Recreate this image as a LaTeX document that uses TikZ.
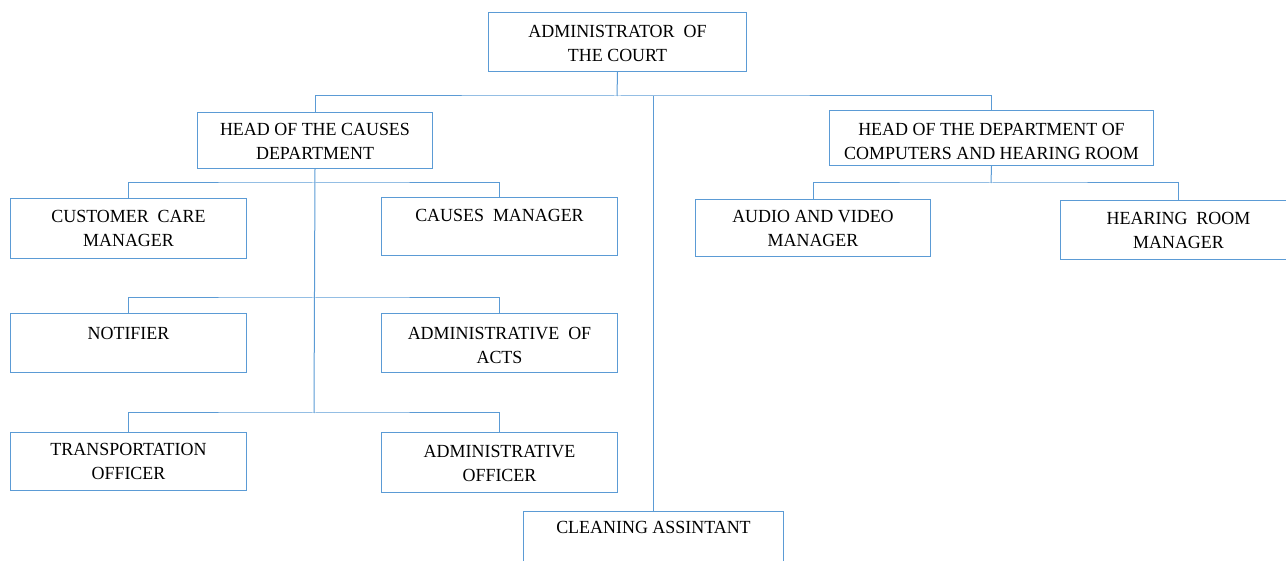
\documentclass[tikz,border=0pt]{standalone}
\usepackage{fontspec}
\setmainfont[FakeStretch=0.97]{Liberation Serif}
\definecolor{lnblue}{RGB}{91,155,213}
\newcommand\bxt[4]{\parbox[c][#2pt][t]{#1pt}{\centering\fontsize{18.5}{24}\selectfont\rule{0pt}{#3pt}#4}}
\tikzset{
  orgbox/.style={draw=lnblue, line width=1pt, inner sep=0pt, anchor=north west, text=black},
  conn/.style={draw=lnblue, line width=1pt},
}
\begin{document}
\begin{tikzpicture}[x=1pt,y=-1pt]
\useasboundingbox (0,0) rectangle (1286,561);
% boxes
\node[orgbox] (adm) at (488,12) {\bxt{258}{59}{25}{ADMINISTRATOR\ \ OF\\THE COURT}};
\node[orgbox] (hc) at (197,112) {\bxt{235}{56}{23}{HEAD OF THE CAUSES\\DEPARTMENT}};
\node[orgbox] (hcomp) at (829,110) {\bxt{324}{55}{25}{HEAD OF THE DEPARTMENT OF\\COMPUTERS AND HEARING ROOM}};
\node[orgbox] (cc) at (10,198) {\bxt{236}{60}{24}{CUSTOMER\ \ CARE\\MANAGER}};
\node[orgbox] (cm) at (381,197) {\bxt{236}{58}{24}{CAUSES\ \ MANAGER}};
\node[orgbox] (nt) at (10,313) {\bxt{236}{59}{26}{NOTIFIER}};
\node[orgbox] (aa) at (381,313) {\bxt{236}{59}{26}{ADMINISTRATIVE\ \ OF\\ACTS}};
\node[orgbox] (to) at (10,432) {\bxt{236}{58}{23}{TRANSPORTATION\\OFFICER}};
\node[orgbox] (ao) at (381,432) {\bxt{236}{60}{25}{ADMINISTRATIVE\\OFFICER}};
\node[orgbox] (cl) at (523,511) {\bxt{260}{62}{22}{CLEANING ASSINTANT}};
\node[orgbox] (av) at (695,199) {\bxt{235}{57}{23}{AUDIO AND VIDEO\\MANAGER}};
\node[orgbox] (hr) at (1060,200) {\bxt{236}{59}{24}{HEARING\ \ ROOM\\MANAGER}};
% junctions
\coordinate (j0) at (617,96);
\coordinate (j1) at (314,183);
\coordinate (j2) at (314,298);
\coordinate (j3) at (314,413);
\coordinate (j4) at (991,183);
% connectors
\draw[conn] (adm.south) -- (j0);
\draw[conn] (hc.north) |- (j0) -| (hcomp.north);
\draw[conn] (cl.north) -- (cl.north |- j0);
\draw[conn] (hc.south) -- (j3);
\draw[conn] (cc.north) |- (j1) -| (cm.north);
\draw[conn] (nt.north) |- (j2) -| (aa.north);
\draw[conn] (to.north) |- (j3) -| (ao.north);
\draw[conn] (hcomp.south) -- (j4);
\draw[conn] (av.north) |- (j4) -| (hr.north);
\end{tikzpicture}
\end{document}
